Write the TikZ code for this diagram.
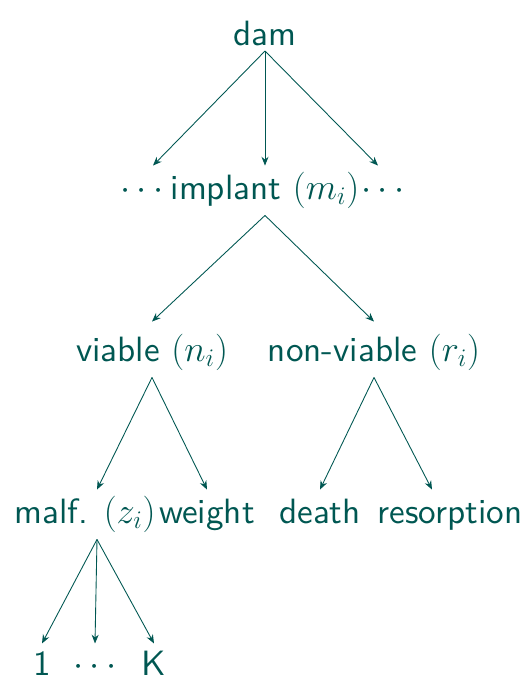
\documentclass[tikz,border=0pt]{standalone}
\usepackage{fontspec}
\setsansfont{lmsans10-regular.otf}
\usetikzlibrary{arrows.meta}
\definecolor{tealtext}{RGB}{0,87,82}
\begin{document}
\begin{tikzpicture}[
    font=\sffamily\fontsize{20}{24}\selectfont,
    >={Stealth[length=5pt,width=4pt]},
    every node/.style={text=tealtext, inner sep=3pt},
    outcome/.style={
        text height=15pt,
        text depth=5pt,
        inner sep=4pt
    },
    category/.style={
        text height=17pt,
        text depth=0pt,
        inner xsep=4pt,
        inner ysep=1pt
    },
    branch/.style={->, draw=tealtext, line width=0.5pt}
]
    \useasboundingbox (0,0) rectangle (10.54,-13.64);

    \node (dam) at (5.30,-0.66) {dam};

    \node[outcome] (dots-left) at (2.84,-3.81) {$\cdots$};
    \node[outcome] (implant) at (5.30,-3.81) {implant $(m_i)$};
    \node[outcome] (dots-right) at (7.66,-3.81) {$\cdots$};
    \draw[branch] (dam.south) -- ([xshift=0.22cm]dots-left.north);
    \draw[branch] (dam.south) -- (implant.north);
    \draw[branch] (dam.south) -- ([xshift=-0.10cm]dots-right.north);

    \node[outcome] (viable) at (3.04,-7.05) {viable $(n_i)$};
    \node[outcome] (non-viable) at (7.48,-7.05) {non-viable $(r_i)$};
    \draw[branch] (implant.south) -- ([yshift=0.12cm]viable.north);
    \draw[branch] (implant.south) -- ([yshift=0.12cm]non-viable.north);

    \node[outcome] (malf) at (1.70,-10.29) {malf. $(z_i)$};
    \node[outcome] (weight) at (4.14,-10.29) {weight};
    \node[outcome] (death) at (6.40,-10.29) {death};
    \node[outcome] (resorption) at (9.00,-10.29) {resorption};
    \draw[branch] (viable.south) -- ([xshift=0.24cm]malf.north);
    \draw[branch] (viable.south) -- (weight.north);
    \draw[branch] (non-viable.south) -- (death.north);
    \draw[branch] (non-viable.south) -- ([xshift=-0.36cm]resorption.north);

    \node[category] (one) at (0.84,-13.21) {1};
    \node[category] (dots-k) at (1.90,-13.21) {$\cdots$};
    \node[category] (k) at (3.08,-13.21) {K};
    \draw[branch] ([xshift=0.24cm]malf.south) -- (one.north);
    \draw[branch] ([xshift=0.24cm]malf.south) -- (dots-k.north);
    \draw[branch] ([xshift=0.24cm]malf.south) -- (k.north);
\end{tikzpicture}
\end{document}
